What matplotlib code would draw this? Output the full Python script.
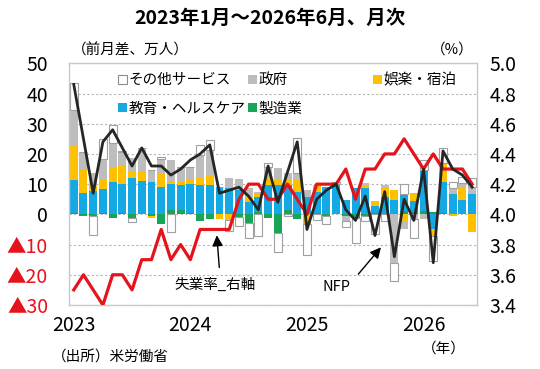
import matplotlib
matplotlib.use('Agg')
import matplotlib.pyplot as plt
from matplotlib.patches import Patch
import numpy as np

plt.rcParams['font.family'] = ['Noto Sans CJK JP', 'DejaVu Sans']

# 2023年1月～2026年6月（42か月）
n = 42
x = np.arange(n)

# 前月差（万人）
mfg = [0.5, -0.4, -0.6, 0.3, -1.3, 0.3, -1.3, 0.2, -0.5, -3.3,
       1.5, 1.4, 0.3, -2.2, -1.4, 0, 0, -1, -2.8, 0.9,
       -1.1, -6.3, 1.4, -1.7, 0, 0.3, -0.5, 0, -0.5, -1.1,
       -0.5, 0.3, 0, 0, 1, 0.8, 1, 0.8, 0.3, 0,
       0, 0]
health = [11, 7.2, 7.8, 8.1, 10.8, 9.7, 11.9, 10.8, 10.8, 9.2,
          8.5, 8.3, 9.9, 9.7, 9.7, 9.2, 8.6, 8, 4.2, 5,
          9.7, 9.7, 8.3, 7.5, 5.8, 7, 9.2, 9.7, 4.7, 8.6,
          8.6, 2.5, 5.8, 4.7, 5.8, 3.6, 13.7, -5, 10.5, 6.7,
          4.7, 6.6]
leisure = [11, 7.7, 1.9, 3.3, 4.4, 6.1, 2.2, 3.3, -0.8, 4.6,
           1, 1.1, 1.1, 2.8, 3.3, -1.7, -2, 0.5, 1.7, 1,
           2.8, 1.7, 1.7, 3.9, -3.3, 2.5, 0, 0.5, 0, 0,
           1.1, 1.7, 3.3, 3.5, -2.2, 2.8, 0, -2.2, 6.1, -0.5,
           3.9, -6]
gov = [12.1, 5.9, 4.1, 6.6, 8.3, 4.4, 4.7, 7.7, 3.9, 4.4,
       7, 5, 4.4, 7.2, 8.3, 0, 3.3, 3.3, 2.8, 0.5,
       3.3, 3.9, 2.2, 2.2, 2.2, 0, 0, 0, -1.7, 0,
       0.6, 0, 0.6, -16, -2.8, -1.7, -1.7, 0, 0, 2,
       1.7, 2.5]
other = [8.8, 0, -6.2, 6.6, 6.1, 0.5, -1.1, 0, 0, 0.9,
         -6, 0, 0, 3.3, 3.3, 0, -3.5, -3, -5, -7,
         1.1, -6, -0.6, 11.6, -10, -2, -2.7, 0.5, -2, -8.3,
         -1.7, -6.6, -2.2, -6, 3.3, -6, 3.3, -8.3, 5, 2,
         2.2, 3]
nfp = [43, 25, 7, 24, 28, 22, 16, 22, 16, 16,
       13, 15, 18, 20, 23, 7, 8, 9, 6, 1.5,
       16, 4, 14, 24, -5, 5, 8, 10, 1.5, -2,
       6, -7, 7.5, -14, 5, -2, 15, -16, 21, 15,
       13, 9]
# 失業率（%）
unemp = [3.5, 3.6, 3.5, 3.4, 3.6, 3.6, 3.5, 3.7, 3.7, 3.9,
         3.7, 3.8, 3.7, 3.9, 3.9, 3.9, 3.9, 4.1, 4.2, 4.2,
         4.1, 4.1, 4.2, 4.1, 4.0, 4.2, 4.2, 4.2, 4.3, 4.1,
         4.3, 4.3, 4.4, 4.4, 4.5, 4.4, 4.3, 4.4, 4.3, 4.3,
         4.3, 4.2]

year_pos = [0, 12, 24, 36]
year_lab = ['2023', '2024', '2025', '2026']
left_ticks = [50, 40, 30, 20, 10, 0, -10, -20, -30]
left_lab = ['50', '40', '30', '20', '10', '0', '▲10', '▲20', '▲30']
right_ticks = [3.4, 3.6, 3.8, 4.0, 4.2, 4.4, 4.6, 4.8, 5.0]

c_other, c_gov, c_leis, c_health, c_mfg = 'white', '#bdbdbd', '#ffc000', '#14a9e4', '#19a557'
c_red, c_blk = '#e5131b', '#262626'

fig = plt.figure(figsize=(5.4, 3.69), dpi=100)
ax = fig.add_axes([68.9/540, 1-305/369, (477-68.9)/540, (305-63.3)/369])

# 積み上げ棒（正負を別々に積む）
series = [(mfg, c_mfg, 'none'), (health, c_health, 'none'), (leisure, c_leis, 'none'),
          (gov, c_gov, 'none'), (other, c_other, '#a0a0a0')]
pos = np.zeros(n)
neg = np.zeros(n)
for vals, fc, ec in series:
    v = np.array(vals, dtype=float)
    bottom = np.where(v >= 0, pos, neg)
    ax.bar(x, v, bottom=bottom, width=0.82, color=fc, edgecolor=ec, linewidth=0.8, zorder=2)
    pos += np.clip(v, 0, None)
    neg += np.clip(v, None, 0)

ax.set_xlim(-0.5, n - 0.5)
ax.set_ylim(-30, 50)
ax.set_yticks(left_ticks)
ax.set_yticklabels(left_lab)
for lab, t in zip(ax.get_yticklabels(), left_ticks):
    if t < 0:
        lab.set_color('#e5131b')
ax.set_xticks(year_pos)
ax.set_xticklabels(year_lab)
ax.tick_params(axis='y', length=0, pad=15, labelsize=14)
ax.tick_params(axis='x', length=0, pad=7, labelsize=14)
ax.yaxis.grid(True, linestyle=(0, (2, 2)), color='#b5b5b5', linewidth=0.8, zorder=0)
ax.set_axisbelow(True)
for s in ax.spines.values():
    s.set_color('#c8c8c8')
    s.set_linewidth(1)

# 失業率（右軸）
ax2 = ax.twinx()
ax2.plot(x, unemp, color=c_red, linewidth=2.3, zorder=3)
ax2.set_ylim(3.4, 5.0)
ax2.set_yticks(right_ticks)
ax2.set_yticklabels([f'{t:.1f}' for t in right_ticks])
ax2.tick_params(axis='y', length=0, pad=9, labelsize=14)
for s in ax2.spines.values():
    s.set_visible(False)

# NFP（左軸、最前面）
ax3 = ax.twinx()
ax3.plot(x, nfp, color=c_blk, linewidth=2.0)
ax3.set_ylim(-30, 50)
ax3.axis('off')

# 注記
ax3.annotate('', xy=(14.7, -6), xytext=(15.0, -18.5),
             arrowprops=dict(arrowstyle='-|>', color='black', lw=1, mutation_scale=16))
ax3.text(14.5, -23.3, '失業率_右軸', ha='center', va='center', fontsize=10.5)
ax3.annotate('', xy=(31.8, -10.2), xytext=(29.1, -20.5),
             arrowprops=dict(arrowstyle='-|>', color='black', lw=1, mutation_scale=16))
ax3.text(27.0, -24, 'NFP', ha='center', va='center', fontsize=10.5)

# 凡例（3列）
def h(fc, ec='none'):
    return Patch(facecolor=fc, edgecolor=ec, linewidth=0.8)

leg_kw = dict(frameon=False, fontsize=10.5, handlelength=0.6, handleheight=0.6,
              handletextpad=0.08, labelspacing=1.0, borderpad=0, loc='upper left')
l1 = fig.legend([h(c_other, '#8c8c8c'), h(c_health)], ['その他サービス', '教育・ヘルスケア'],
                bbox_to_anchor=(111/540, 1-66/369), **leg_kw)
l2 = fig.legend([h(c_gov), h(c_mfg)], ['政府', '製造業'],
                bbox_to_anchor=(241/540, 1-66/369), **leg_kw)
l3 = fig.legend([h(c_leis)], ['娯楽・宿泊'],
                bbox_to_anchor=(366/540, 1-66/369), **leg_kw)

# 文字
fig.text(0.5, 1-18/369, '2023年1月～2026年6月、月次', ha='center', va='center',
         fontsize=14, fontweight='bold')
fig.text(72/540, 1-50/369, '（前月差、万人）', ha='left', va='center', fontsize=10.5)
fig.text(474/540, 1-50/369, '（%）', ha='right', va='center', fontsize=10.5)
fig.text(52/540, 1-358/369, '（出所）米労働省', ha='left', va='center', fontsize=10.5)
fig.text(466/540, 1-349/369, '（年）', ha='right', va='center', fontsize=10.5)

fig.savefig('out.png', dpi=100)
